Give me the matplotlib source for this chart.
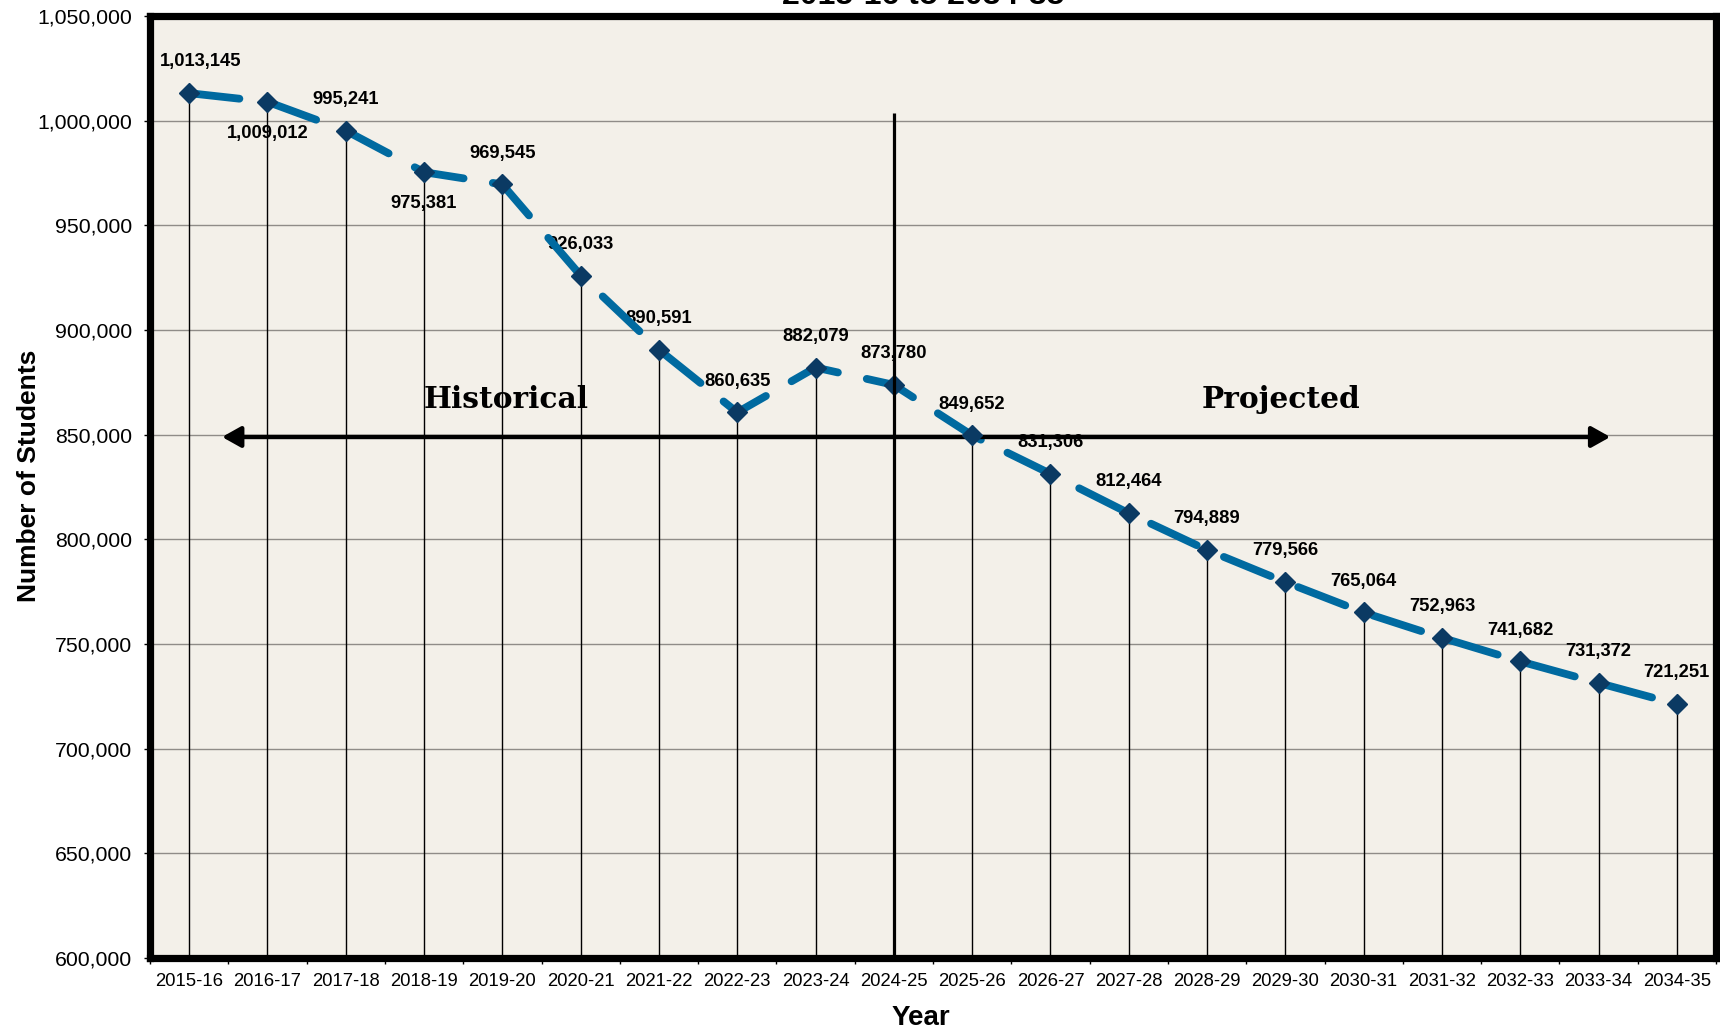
import matplotlib
matplotlib.use("Agg")
import matplotlib.pyplot as plt
from matplotlib.ticker import FixedLocator, FuncFormatter

plt.rcParams["font.family"] = ["Liberation Sans", "DejaVu Sans"]

# Enrollment by school year (historical through 2024-25, projected after)
years = ["2015-16", "2016-17", "2017-18", "2018-19", "2019-20", "2020-21",
         "2021-22", "2022-23", "2023-24", "2024-25", "2025-26", "2026-27",
         "2027-28", "2028-29", "2029-30", "2030-31", "2031-32", "2032-33",
         "2033-34", "2034-35"]
students = [1013145, 1009012, 995241, 975381, 969545, 926033, 890591, 860635,
            882079, 873780, 849652, 831306, 812464, 794889, 779566, 765064,
            752963, 741682, 731372, 721251]
label_side = ["above", "below", "above", "below", "above"] + ["above"] * 15
y_ticks = [600000, 650000, 700000, 750000, 800000, 850000, 900000, 950000,
           1000000, 1050000]
title_line = "2015-16 to 2034-35"
divider_year = "2024-25"
divider_top = 1003800
arrow_level = 848900
section_names = ["Historical", "Projected"]
section_level = 866800

W, H = 1720, 1031
fig = plt.figure(figsize=(W / 100, H / 100), dpi=100, facecolor="white")
ax = fig.add_axes([150 / W, 1 - 958 / H, (1716 - 150) / W, (958 - 16) / H])
ax.set_facecolor("#f3f0e9")

x = list(range(len(years)))
ax.set_xlim(-0.5, len(years) - 0.5)
ax.set_ylim(y_ticks[0], y_ticks[-1])

# frame
for sp in ax.spines.values():
    sp.set_linewidth(5.2)
    sp.set_color("black")
    sp.set_zorder(10)

# gridlines
ax.set_axisbelow(True)
ax.yaxis.set_major_locator(FixedLocator(y_ticks))
ax.yaxis.grid(True, color="#8f8c88", lw=1.0)
ax.yaxis.set_major_formatter(FuncFormatter(lambda v, p: f"{v:,.0f}"))
ax.tick_params(axis="y", length=4, width=1, pad=9, labelsize=15.3, direction="out")

ax.xaxis.set_major_locator(FixedLocator(x))
ax.set_xticklabels(years)
ax.xaxis.set_minor_locator(FixedLocator([i - 0.5 for i in range(len(years) + 1)]))
ax.tick_params(axis="x", which="major", length=0, pad=11, labelsize=13.3)
ax.tick_params(axis="x", which="minor", length=4, width=1, direction="out")

# drop lines
ax.vlines(x, y_ticks[0], students, color="black", lw=1.0, zorder=2)

# dashed trend line
line, = ax.plot(x, students, color="#006aa0", lw=5.6, zorder=4,
                dash_capstyle="round", solid_capstyle="round")
line.set_dashes((6.5, 3.8))

# markers
ax.plot(x, students, ls="none", marker="D", ms=10.5, color="#0b3a63",
        mec="#0b3a63", zorder=6)

# value labels
for i, (v, side) in enumerate(zip(students, label_side)):
    dy = 22.5 if side == "above" else -22.5
    dx = 8.5 if i == 0 else 0
    ax.annotate(f"{v:,}", (i, v), xytext=(dx, dy), textcoords="offset points",
                ha="center", va="center", fontsize=13.2, fontweight="bold",
                color="black", zorder=3)

# historical / projected divider
div_x = years.index(divider_year)
ax.vlines(div_x, y_ticks[0], divider_top, color="black", lw=2.3, zorder=7)

ax.annotate("", xy=(0.42, arrow_level), xytext=(18.15, arrow_level),
            arrowprops=dict(arrowstyle="<|-|>,head_length=0.75,head_width=0.42",
                            mutation_scale=15, lw=3.2, color="black",
                            shrinkA=0, shrinkB=0),
            zorder=5)

ax.text(4.05, section_level, section_names[0], family="DejaVu Serif",
        fontweight="bold", fontsize=21.3, ha="center", va="center", zorder=8)
ax.text(13.94, section_level, section_names[1], family="DejaVu Serif",
        fontweight="bold", fontsize=21.3, ha="center", va="center", zorder=8)

# axis titles
fig.text(29 / W, 1 - 476 / H, "Number of Students", rotation=90, ha="center",
         va="center", fontsize=19, fontweight="bold")
fig.text(921 / W, 1 - 1018 / H, "Year", ha="center", va="center",
         fontsize=20, fontweight="bold")

# last line of the chart title sits at the very top edge
fig.text(923 / W, 1 - 4 / H, title_line, ha="center", va="baseline",
         fontsize=23, fontweight="bold")

fig.savefig("out.png", dpi=100, facecolor="white")
